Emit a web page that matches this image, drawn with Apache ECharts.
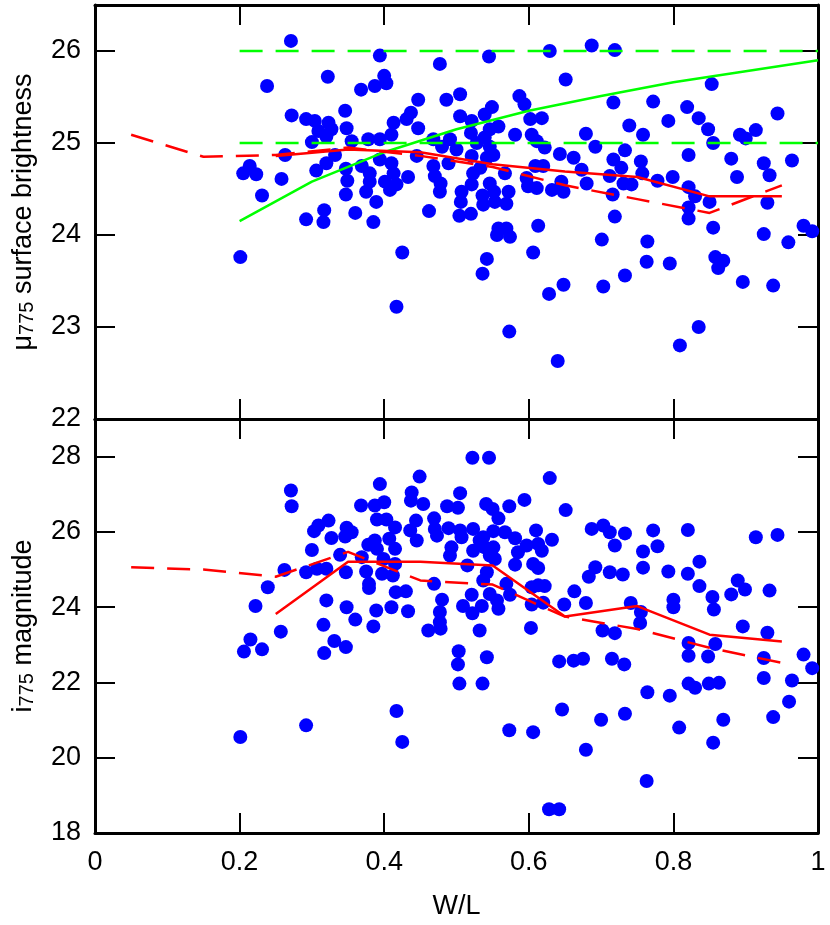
<!DOCTYPE html>
<html>
<head>
<meta charset="utf-8">
<script src="https://cdn.jsdelivr.net/npm/echarts@6/dist/echarts.min.js"></script>
<style>
  body { margin: 0; background: #fff; }
  #main { width: 830px; height: 925px; }
</style>
</head>
<body>
<div id="main"></div>
<script>
// tick labels
var xTicks = [0, 0.2, 0.4, 0.6, 0.8, 1];
var muTicks = [22, 23, 24, 25, 26];
var magTicks = [18, 20, 22, 24, 26, 28];

// surface brightness vs W/L (top panel)
var muPts = [
  [0.271,26.11],[0.394,25.95],[0.238,25.62],[0.322,25.72],[0.368,25.58],[0.387,25.62],[0.400,25.73],[0.403,25.65],[0.447,25.47],
  [0.272,25.30],[0.292,25.26],[0.304,25.24],[0.323,25.22],[0.346,25.35],[0.348,25.16],[0.309,25.13],[0.327,25.15],[0.320,25.07],
  [0.300,25.01],[0.355,25.02],[0.413,25.22],[0.410,25.09],[0.431,25.26],[0.437,25.33],[0.447,25.16],[0.378,25.04],[0.394,25.04],
  [0.263,24.87],[0.205,24.67],[0.214,24.75],[0.223,24.66],[0.258,24.61],[0.231,24.43],[0.306,24.70],[0.320,24.78],[0.332,24.87],
  [0.347,24.72],[0.349,24.59],[0.347,24.44],[0.369,24.75],[0.380,24.67],[0.380,24.58],[0.375,24.47],[0.389,24.36],[0.394,24.82],
  [0.410,24.78],[0.401,24.58],[0.408,24.49],[0.417,24.55],[0.413,24.67],[0.433,24.63],[0.445,24.86],
  [0.292,24.17],[0.317,24.27],[0.316,24.14],[0.360,24.24],[0.385,24.14],[0.201,23.76],[0.425,23.81],[0.417,23.22],
  [0.477,25.86],[0.545,25.94],[0.629,26.00],[0.687,26.06],[0.719,26.01],[0.651,25.69],[0.486,25.47],[0.505,25.53],[0.587,25.51],
  [0.594,25.42],[0.717,25.44],[0.505,25.29],[0.521,25.24],[0.539,25.31],[0.549,25.39],[0.558,25.18],[0.546,25.15],[0.581,25.09],
  [0.602,25.26],[0.618,25.27],[0.604,25.09],[0.611,25.02],[0.622,24.95],[0.679,25.10],[0.692,24.96],[0.643,24.88],[0.662,24.84],
  [0.673,24.71],[0.680,24.56],[0.717,24.82],[0.712,24.64],[0.716,24.44],[0.719,24.20],[0.701,23.95],[0.703,23.44],[0.648,23.46],
  [0.628,23.36],[0.606,23.81],[0.613,24.10],[0.542,23.74],[0.536,23.58],[0.462,24.26],[0.558,24.07],[0.569,24.07],[0.574,23.98],
  [0.556,24.00],[0.504,24.21],[0.520,24.23],[0.506,24.36],[0.507,24.47],[0.536,24.43],[0.537,24.33],[0.553,24.36],[0.572,24.47],
  [0.569,24.34],[0.546,24.56],[0.552,24.47],[0.521,24.55],[0.523,24.67],[0.533,24.73],[0.542,24.84],[0.546,24.96],[0.551,24.87],
  [0.539,25.06],[0.491,25.04],[0.500,24.93],[0.480,24.96],[0.468,25.04],[0.489,24.78],[0.468,24.75],[0.470,24.64],[0.478,24.56],
  [0.477,24.47],[0.567,24.67],[0.597,24.62],[0.599,24.53],[0.611,24.51],[0.609,24.75],[0.620,24.75],[0.632,24.49],[0.648,24.47],
  [0.645,24.58],[0.520,25.11],[0.528,25.00],[0.521,24.86],
  [0.853,25.64],[0.772,25.45],[0.819,25.39],[0.835,25.27],[0.848,25.15],[0.793,25.24],[0.739,25.19],[0.758,25.09],[0.944,25.32],
  [0.892,25.09],[0.914,25.14],[0.900,25.05],[0.855,25.00],[0.733,24.92],[0.728,24.73],[0.731,24.56],[0.742,24.55],[0.755,24.80],
  [0.757,24.67],[0.821,24.87],[0.778,24.59],[0.799,24.63],[0.821,24.52],[0.830,24.42],[0.821,24.30],[0.821,24.18],[0.850,24.36],
  [0.855,24.08],[0.880,24.83],[0.888,24.63],[0.925,24.78],[0.933,24.65],[0.964,24.81],[0.930,24.35],[0.925,24.01],[0.959,23.92],
  [0.980,24.10],[0.992,24.04],[0.764,23.93],[0.763,23.71],[0.795,23.69],[0.733,23.56],[0.858,23.76],[0.869,23.72],[0.862,23.64],
  [0.896,23.49],[0.938,23.45],[0.809,22.80],[0.835,23.00],[0.573,22.95],[0.640,22.63]
];

// i775 magnitude vs W/L (bottom panel)
var magPts = [
  [0.271,27.10],[0.272,26.68],[0.394,27.27],[0.368,26.70],[0.387,26.70],[0.400,26.79],[0.438,27.05],[0.449,27.47],[0.437,26.83],
  [0.323,26.30],[0.309,26.17],[0.303,26.02],[0.327,25.84],[0.348,26.11],[0.355,25.99],[0.346,25.88],[0.390,26.33],[0.403,26.33],
  [0.415,26.12],[0.407,25.82],[0.444,26.30],[0.436,26.04],[0.445,25.77],[0.300,25.52],[0.378,25.66],[0.387,25.77],[0.390,25.55],
  [0.415,25.55],[0.339,25.39],[0.369,25.33],[0.399,25.28],[0.415,25.15],[0.262,24.99],[0.292,24.93],[0.307,25.02],[0.320,25.02],
  [0.347,24.93],[0.375,24.95],[0.397,24.89],[0.412,24.84],[0.239,24.53],[0.222,24.03],[0.379,24.62],[0.379,24.51],[0.320,24.18],
  [0.348,24.00],[0.360,23.67],[0.389,23.91],[0.410,24.00],[0.416,24.40],[0.430,24.42],[0.433,23.89],[0.385,23.49],[0.257,23.35],
  [0.316,23.53],[0.331,23.10],[0.347,22.94],[0.317,22.78],[0.215,23.14],[0.206,22.82],[0.231,22.88],[0.201,20.55],[0.292,20.86],
  [0.417,21.24],[0.425,20.42],
  [0.522,27.97],[0.545,27.97],[0.629,27.43],[0.505,27.03],[0.454,26.74],[0.487,26.68],[0.502,26.64],[0.541,26.74],[0.550,26.61],
  [0.573,26.68],[0.594,26.85],[0.651,26.58],[0.558,26.36],[0.469,26.36],[0.470,26.08],[0.473,25.90],[0.489,26.10],[0.505,26.04],
  [0.507,25.86],[0.523,26.08],[0.537,25.86],[0.551,26.02],[0.567,25.99],[0.581,25.83],[0.610,26.04],[0.632,25.79],[0.597,25.64],
  [0.613,25.68],[0.618,25.50],[0.585,25.46],[0.523,25.50],[0.539,25.59],[0.493,25.59],[0.491,25.37],[0.546,25.37],[0.553,25.28],
  [0.515,25.11],[0.542,24.93],[0.581,25.13],[0.606,25.15],[0.613,25.04],[0.469,24.62],[0.537,24.71],[0.569,24.62],[0.574,24.33],
  [0.521,24.33],[0.546,24.35],[0.556,24.18],[0.558,23.96],[0.480,24.20],[0.477,23.87],[0.477,23.60],[0.509,24.03],[0.522,23.84],
  [0.535,24.03],[0.461,23.38],[0.478,23.43],[0.532,23.38],[0.604,24.53],[0.613,24.58],[0.622,24.56],[0.604,24.07],[0.620,24.12],
  [0.663,24.42],[0.649,24.07],[0.679,24.11],[0.603,23.45],[0.687,26.08],[0.703,26.17],[0.712,25.99],[0.719,25.64],[0.692,25.06],
  [0.683,24.81],[0.712,24.93],[0.702,23.38],[0.719,23.31],[0.503,22.83],[0.502,22.48],[0.542,22.67],[0.504,21.97],[0.536,21.97],
  [0.642,22.56],[0.662,22.58],[0.675,22.63],[0.715,22.63],[0.646,21.28],[0.700,21.01],[0.679,20.21],[0.573,20.73],[0.606,20.68],
  [0.628,18.63],[0.642,18.63],[0.532,25.77],[0.551,25.59],
  [0.733,25.96],[0.772,26.04],[0.778,25.62],[0.820,26.05],[0.758,25.48],[0.758,25.05],[0.730,24.87],[0.793,24.95],[0.820,24.89],
  [0.836,25.21],[0.836,24.56],[0.800,24.20],[0.800,24.00],[0.854,24.27],[0.856,23.94],[0.880,24.34],[0.889,24.71],[0.899,24.47],
  [0.933,24.44],[0.914,25.86],[0.944,25.92],[0.741,24.11],[0.755,23.87],[0.754,23.58],[0.732,22.48],[0.896,23.49],[0.930,23.32],
  [0.821,23.05],[0.821,22.71],[0.848,22.69],[0.858,23.02],[0.925,22.65],[0.980,22.74],[0.992,22.38],[0.925,22.12],[0.964,22.05],
  [0.821,21.97],[0.830,21.86],[0.849,21.97],[0.863,21.99],[0.764,21.74],[0.795,21.65],[0.960,21.49],[0.733,21.17],[0.938,21.08],
  [0.869,21.01],[0.808,20.80],[0.855,20.40],[0.763,19.38]
];

// binned curves
var binW = [0.25, 0.35, 0.45, 0.55, 0.65, 0.75, 0.85, 0.95];
var muSolid = [24.86, 24.93, 24.90, 24.77, 24.69, 24.63, 24.42, 24.42];
var dashW = [0.05, 0.15, 0.25, 0.35, 0.45, 0.55, 0.65, 0.75, 0.85, 0.95];
var muDash = [25.09, 24.85, 24.87, 24.95, 24.86, 24.74, 24.54, 24.39, 24.24, 24.54];
var magSolid = [23.82, 25.21, 25.21, 25.11, 23.75, 24.03, 23.27, 23.09];
var magDash = [25.06, 25.00, 24.81, 25.47, 24.71, 24.60, 23.75, 23.42, 22.92, 22.52];

// green model curve and limits
var modelW = [0.2, 0.3, 0.4, 0.5, 0.6, 0.7, 0.8, 0.9, 1.0];
var modelMu = [24.15, 24.58, 24.90, 25.15, 25.35, 25.51, 25.66, 25.78, 25.90];
var limitW = [0.2, 1.0];
var limitHi = [26, 26];
var limitLo = [25, 25];

function zip(xs, ys) {
  return xs.map(function (x, i) { return [x, ys[i]]; });
}

var FONT = '"Liberation Sans", sans-serif';
var DASH = [23, 13];

function xAx(grid, pos, labels) {
  var a = {
    type: 'value', gridIndex: grid, position: pos, min: 0, max: 1, interval: 0.2,
    axisLine: { onZero: false, lineStyle: { color: '#000', width: 3 } },
    axisTick: { inside: true, length: 20, lineStyle: { color: '#000', width: 2 } },
    axisLabel: { show: labels, margin: 16, fontSize: 27, color: '#000', fontFamily: FONT,
      formatter: function (v) { return xTicks.indexOf(+v.toFixed(1)) >= 0 ? String(+v.toFixed(1)) : ''; } },
    splitLine: { show: false }
  };
  if (labels) {
    a.name = 'W/L';
    a.nameLocation = 'middle';
    a.nameGap = 60;
    a.nameTextStyle = { fontSize: 27, color: '#000', fontFamily: FONT };
  }
  return a;
}

function yAx(grid, pos, min, max, step, ticks, name) {
  var a = {
    type: 'value', gridIndex: grid, position: pos, min: min, max: max, interval: step,
    axisLine: { onZero: false, lineStyle: { color: '#000', width: 3 } },
    axisTick: { inside: true, length: 20, lineStyle: { color: '#000', width: 2 } },
    axisLabel: { show: !!name, margin: 14, fontSize: 27, color: '#000', fontFamily: FONT,
      formatter: function (v) { return ticks.indexOf(v) >= 0 ? String(v) : ''; } },
    splitLine: { show: false }
  };
  if (name) {
    a.name = name;
    a.nameLocation = 'middle';
    a.nameGap = 58;
    a.nameTextStyle = {
      color: '#000', fontFamily: FONT, fontSize: 27,
      rich: {
        t: { fontSize: 27, color: '#000', fontFamily: FONT },
        s: { fontSize: 20, color: '#000', fontFamily: FONT, verticalAlign: 'bottom' }
      }
    };
  }
  return a;
}

function lineS(xi, yi, data, color, dashed, z) {
  return {
    type: 'line', xAxisIndex: xi, yAxisIndex: yi, data: data, showSymbol: false, z: z || 5,
    lineStyle: { color: color, width: 2.5, type: dashed ? DASH : 'solid' },
    animation: false, silent: true
  };
}

var myChart = echarts.init(document.getElementById('main'), null, { renderer: 'canvas' });

var chartopt = {
  backgroundColor: '#fff',
  animation: false,
  grid: [
    { left: 95, top: 5, width: 723, height: 414 },
    { left: 95, top: 419, width: 723, height: 414 }
  ],
  xAxis: [
    xAx(0, 'bottom', false), xAx(0, 'top', false),
    xAx(1, 'bottom', true), xAx(1, 'top', false)
  ],
  yAxis: [
    yAx(0, 'left', 22, 26.5, 1, muTicks, '{t|μ}{s|775}{t| surface brightness}'),
    yAx(0, 'right', 22, 26.5, 1, muTicks, null),
    yAx(1, 'left', 18, 29, 2, magTicks, '{t|i}{s|775}{t| magnitude}'),
    yAx(1, 'right', 18, 29, 2, magTicks, null)
  ],
  series: [
    {
      type: 'scatter', xAxisIndex: 0, yAxisIndex: 0, data: muPts,
      symbolSize: 14, itemStyle: { color: '#0000ff', opacity: 1 }, z: 2
    },
    lineS(0, 0, zip(limitW, limitHi), '#00ff00', true),
    lineS(0, 0, zip(limitW, limitLo), '#00ff00', true),
    lineS(0, 0, zip(modelW, modelMu), '#00ff00', false),
    lineS(0, 0, zip(dashW, muDash), '#ff0000', true, 6),
    lineS(0, 0, zip(binW, muSolid), '#ff0000', false, 6),
    {
      type: 'scatter', xAxisIndex: 2, yAxisIndex: 2, data: magPts,
      symbolSize: 14, itemStyle: { color: '#0000ff', opacity: 1 }, z: 2
    },
    lineS(2, 2, zip(dashW, magDash), '#ff0000', true, 6),
    lineS(2, 2, zip(binW, magSolid), '#ff0000', false, 6)
  ]
};
myChart.setOption(chartopt);
</script>
</body>
</html>
